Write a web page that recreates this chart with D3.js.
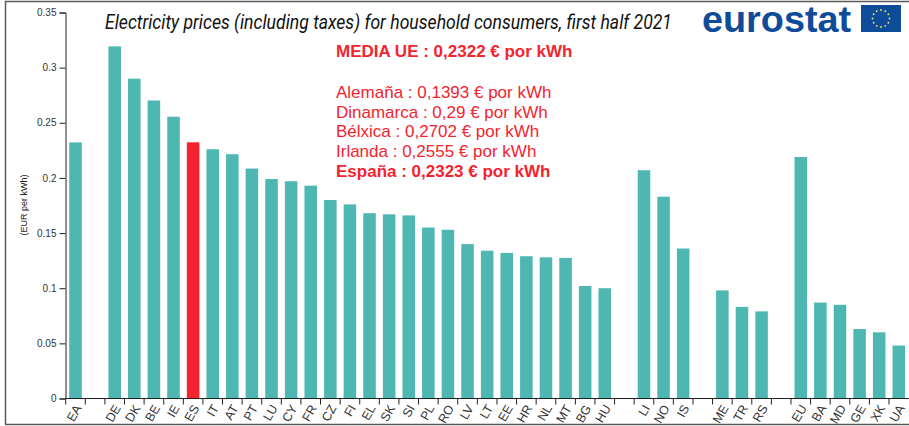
<!DOCTYPE html>
<html><head><meta charset="utf-8">
<script src="https://cdn.jsdelivr.net/npm/d3@7"></script>
<style>html,body{margin:0;padding:0;background:#fff}svg{display:block}</style>
</head><body><div id="c"></div>
<script>
const categories=["EA","_1","DE","DK","BE","IE","ES","IT","AT","PT","LU","CY","FR","CZ","FI","EL","SK","SI","PL","RO","LV","LT","EE","HR","NL","MT","BG","HU","_2","LI","NO","IS","_3","ME","TR","RS","_4","EU","BA","MD","GE","XK","UA"];
const values=[0.2322,null,0.3193,0.29,0.2702,0.2555,0.2323,0.226,0.2215,0.2085,0.199,0.197,0.193,0.18,0.176,0.168,0.167,0.166,0.155,0.153,0.14,0.134,0.132,0.129,0.128,0.1275,0.102,0.1,null,0.207,0.183,0.136,null,0.098,0.083,0.079,null,0.219,0.087,0.085,0.063,0.06,0.048];
const yTicks=[0,0.05,0.1,0.15,0.2,0.25,0.3,0.35];
const yTickLabels=["0","0.05","0.1","0.15","0.2","0.25","0.3","0.35"];
const highlight="ES";
const title="Electricity prices (including taxes) for household consumers, first half 2021";
const yLabel="(EUR per kWh)";
const noteLines=[["MEDIA UE : 0,2322 € por kWh",true],["",false],["Alemaña : 0,1393 € por kWh",false],["Dinamarca : 0,29 € por kWh",false],["Bélxica : 0,2702 € por kWh",false],["Irlanda : 0,2555 € por kWh",false],["España : 0,2323 € por kWh",true]];

const W=909,H=426;
const svg=d3.select("#c").append("svg").attr("width",W).attr("height",H);
const x=d3.scaleBand().domain(categories).range([65.7,908.6]).paddingInner(0.36).paddingOuter(0.18);
const y=d3.scaleLinear().domain([0,0.35]).range([398.5,12.5]);
const step=x.step();

// frame
const frame=svg.append("g").attr("stroke","#5a5a5a").attr("fill","none");
frame.append("path").attr("d",`M5.5,${H-1.5}V1.5H${W}`).attr("stroke-width",1.5);
frame.append("path").attr("d",`M5,${H-1.5}H${W}`).attr("stroke-width",1.5);

// bars
svg.append("g").selectAll("rect").data(categories.map((c,i)=>({c,v:values[i]})).filter(d=>d.v!=null)).join("rect")
 .attr("x",d=>x(d.c)).attr("width",x.bandwidth())
 .attr("y",d=>y(d.v)).attr("height",d=>y(0)-y(d.v))
 .attr("fill",d=>d.c===highlight?"#f4242e":"#4eb7b1");

// axes
const yAxis=d3.axisLeft(y).tickValues(yTicks).tickFormat((d,i)=>yTickLabels[i]).tickSize(6).tickPadding(3);
const gy=svg.append("g").attr("transform","translate(65.5,0)").call(yAxis);
gy.selectAll("text").attr("font-family","'Liberation Sans',Arial,sans-serif").attr("font-size",10).attr("fill","#333");
gy.selectAll("line,path").attr("stroke","#222");

const xAxis=d3.axisBottom(x).tickSize(6);
const gx=svg.append("g").attr("transform","translate(0,398.5)").call(xAxis);
gx.select(".domain").attr("stroke","#222").attr("d",`M65.7,0H${W}`);
gx.selectAll(".tick line").attr("stroke","#222").attr("x1",-step/2).attr("x2",-step/2);
gx.selectAll(".tick text")
 .text(d=>d.startsWith("_")?"":d)
 .attr("font-family","'Liberation Sans',Arial,sans-serif").attr("font-size",12.5).attr("fill","#333")
 .attr("text-anchor","end").attr("dy",0).attr("y",0)
 .attr("transform","translate(6.5,9.5) rotate(-60)");

// y label
svg.append("text").attr("transform","translate(27,205) rotate(-90)").attr("text-anchor","middle")
 .attr("font-family","'Liberation Sans',Arial,sans-serif").attr("font-size",9).attr("fill","#222").text(yLabel);

// title
svg.append("text").attr("transform","translate(105,29) scale(0.881,1)")
 .attr("font-family","Roboto,sans-serif").attr("font-style","italic").attr("font-size",20).attr("fill","#111").text(title);

// notes
const lineYs=[57,null,97.5,117.5,137,157,177];
svg.append("g").selectAll("text").data(noteLines.filter(d=>d[0])).join("text")
 .attr("x",336).attr("y",(d)=>lineYs[noteLines.indexOf(d)])
 .attr("font-family","'Liberation Sans',Arial,sans-serif").attr("font-size",17)
 .attr("font-weight",d=>d[1]?"bold":"normal").attr("fill","#f4242e").text(d=>d[0]);

// logo
svg.append("text").attr("transform","translate(702,32) scale(1.05,1)").attr("font-family","'Liberation Sans',Arial,sans-serif")
 .attr("font-weight","bold").attr("font-size",36).attr("fill","#0e4c9a").text("eurostat");
svg.append("rect").attr("x",861).attr("y",5).attr("width",40).attr("height",27).attr("fill","#0e4c9a");
const starAngles=d3.range(12);
svg.append("g").selectAll("circle").data(starAngles).join("circle")
 .attr("cx",d=>881+8.5*Math.sin(d*Math.PI/6)).attr("cy",d=>18.5-8.5*Math.cos(d*Math.PI/6))
 .attr("r",0.9).attr("fill","#f5e663");
</script></body></html>
